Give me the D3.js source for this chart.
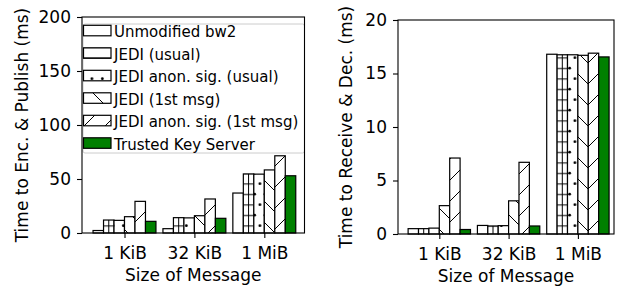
<!DOCTYPE html>
<html>
<head>
<meta charset="utf-8">
<script src="https://cdn.jsdelivr.net/npm/d3@7"></script>
<style>
  body { margin: 0; background: #fff; }
  text { font-family: "DejaVu Sans", sans-serif; fill: #000; }
</style>
</head>
<body>
<div id="chart"></div>
<script>
// message sizes on the x axis
const categories = ["1 KiB", "32 KiB", "1 MiB"];

// legend order, one hatch per series
const seriesNames = [
  "Unmodified bw2",
  "JEDI (usual)",
  "JEDI anon. sig. (usual)",
  "JEDI (1st msg)",
  "JEDI anon. sig. (1st msg)",
  "Trusted Key Server"
];

// left panel: encrypt & publish (ms), one row per series
const encValues = [
  [2.3, 4.0, 37.0],
  [12.0, 14.2, 54.7],
  [11.7, 14.0, 54.5],
  [15.1, 16.0, 58.4],
  [29.3, 31.5, 71.5],
  [10.8, 13.6, 53.0]
];

// right panel: receive & decrypt (ms)
const decValues = [
  [0.50, 0.80, 16.80],
  [0.50, 0.75, 16.75],
  [0.55, 0.78, 16.75],
  [2.65, 3.10, 16.70],
  [7.10, 6.70, 16.90],
  [0.42, 0.75, 16.55]
];

const encTicks = [0, 50, 100, 150, 200];
const decTicks = [0, 5, 10, 15, 20];

const fills = ["#fff", "url(#hLines)", "url(#dots)", "url(#back)", "url(#fwd)", "#008000"];
const barW = 0.15;

const svg = d3.select("#chart")
  .append("svg")
  .attr("width", 621)
  .attr("height", 288);

// hatch patterns, anchored to the figure like matplotlib does
const defs = svg.append("defs");

const hl = defs.append("pattern").attr("id", "hLines")
  .attr("patternUnits", "userSpaceOnUse")
  .attr("width", 10.5).attr("height", 10.5);
hl.append("rect").attr("width", 10.5).attr("height", 10.5).attr("fill", "#fff");
hl.append("path").attr("d", "M0,5.5H10.5").attr("stroke", "#000").attr("stroke-width", 1);

const dt = defs.append("pattern").attr("id", "dots")
  .attr("patternUnits", "userSpaceOnUse")
  .attr("width", 10.5).attr("height", 21);
dt.append("rect").attr("width", 10.5).attr("height", 21).attr("fill", "#fff");
dt.append("circle").attr("cx", 2.6).attr("cy", 5.2).attr("r", 1.4).attr("fill", "#000");
dt.append("circle").attr("cx", 7.9).attr("cy", 15.7).attr("r", 1.4).attr("fill", "#000");

const bk = defs.append("pattern").attr("id", "back")
  .attr("patternUnits", "userSpaceOnUse")
  .attr("width", 21).attr("height", 21);
bk.append("rect").attr("width", 21).attr("height", 21).attr("fill", "#fff");
bk.append("path").attr("d", "M0,0L21,21M-2,19L2,23M19,-2L23,2")
  .attr("stroke", "#000").attr("stroke-width", 1);

const fw = defs.append("pattern").attr("id", "fwd")
  .attr("patternUnits", "userSpaceOnUse")
  .attr("width", 21).attr("height", 21);
fw.append("rect").attr("width", 21).attr("height", 21).attr("fill", "#fff");
fw.append("path").attr("d", "M0,21L21,0M-2,2L2,-2M19,23L23,19")
  .attr("stroke", "#000").attr("stroke-width", 1);

function drawPanel(p) {
  const x = d3.scaleLinear().domain(p.xDomain).range([p.left, p.right]);
  const y = d3.scaleLinear().domain([0, p.yMax]).range([p.bottom, p.top]);
  const w = x(barW) - x(0);

  const g = svg.append("g");

  // bars, series by series
  p.values.forEach((row, s) => {
    row.forEach((v, c) => {
      const x0 = x(c + (s - 3) * barW);
      g.append("rect")
        .attr("x", x0)
        .attr("y", y(v))
        .attr("width", w)
        .attr("height", y(0) - y(v))
        .attr("fill", fills[s])
        .attr("stroke", "#000")
        .attr("stroke-width", 1.2);
      // the "usual" bars also show a centre rung line
      if (s === 1) {
        g.append("line")
          .attr("x1", x0 + w / 2).attr("x2", x0 + w / 2)
          .attr("y1", y(v)).attr("y2", y(0))
          .attr("stroke", "#000").attr("stroke-width", 1);
      }
    });
  });

  if (p.legend) drawLegend(p);

  // x axis
  const xa = svg.append("g")
    .attr("transform", `translate(0,${p.bottom})`)
    .call(d3.axisBottom(x).tickValues([0, 1, 2])
      .tickFormat(i => categories[i]).tickSize(5).tickPadding(9).tickSizeOuter(0));
  // y axis
  const ya = svg.append("g")
    .attr("transform", `translate(${p.left},0)`)
    .call(d3.axisLeft(y).tickValues(p.yTicks).tickSize(5).tickPadding(6).tickSizeOuter(0));

  [xa, ya].forEach(a => {
    a.select(".domain").remove();
    a.selectAll(".tick line").attr("stroke", "#000").attr("stroke-width", 1.1);
    a.selectAll("text").style("font-size", "17px").attr("fill", "#000");
  });

  // frame
  svg.append("rect")
    .attr("x", p.left).attr("y", p.top)
    .attr("width", p.right - p.left).attr("height", p.bottom - p.top)
    .attr("fill", "none").attr("stroke", "#000").attr("stroke-width", 1.1);

  // axis titles
  svg.append("text")
    .attr("x", (p.left + p.right) / 2)
    .attr("y", p.xTitleY)
    .attr("text-anchor", "middle")
    .style("font-size", "17px")
    .text("Size of Message");

  svg.append("text")
    .attr("transform", `translate(${p.yTitleX},${(p.top + p.bottom) / 2}) rotate(-90)`)
    .attr("text-anchor", "middle")
    .style("font-size", "17px")
    .text(p.yTitle);
}

function drawLegend(p) {
  const lg = svg.append("g");
  lg.append("rect")
    .attr("x", 83).attr("y", 24)
    .attr("width", p.right - 83).attr("height", 129)
    .attr("rx", 2)
    .attr("fill", "#fff").attr("fill-opacity", 0.8)
    .attr("stroke", "#ccc").attr("stroke-width", 1);

  seriesNames.forEach((name, i) => {
    const base = 37.3 + i * 22.5;
    lg.append("rect")
      .attr("x", 83.5).attr("y", base - 12)
      .attr("width", 27.5).attr("height", 10.5)
      .attr("fill", fills[i])
      .attr("stroke", "#000").attr("stroke-width", 1.2);
    lg.append("text")
      .attr("x", 114)
      .attr("y", base)
      .style("font-size", "15px")
      .text(name);
  });
}

drawPanel({
  left: 82, right: 304.5, top: 17, bottom: 233,
  xDomain: [-0.608, 2.575], yMax: 200, yTicks: encTicks,
  values: encValues, legend: true,
  yTitle: "Time to Enc. & Publish (ms)", yTitleX: 28, xTitleY: 281
});

drawPanel({
  left: 398, right: 614, top: 20, bottom: 234,
  xDomain: [-0.596, 2.521], yMax: 20, yTicks: decTicks,
  values: decValues, legend: false,
  yTitle: "Time to Receive & Dec. (ms)", yTitleX: 352, xTitleY: 282
});
</script>
</body>
</html>
